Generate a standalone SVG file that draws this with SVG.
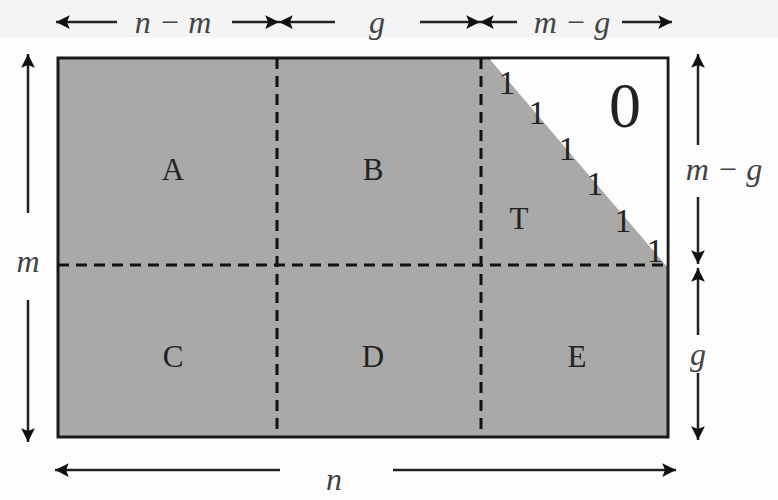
<svg xmlns="http://www.w3.org/2000/svg" width="778" height="500" viewBox="0 0 778 500">
<defs>
<style>
.dim{stroke:#222;stroke-width:2.5;fill:none;marker-end:url(#ah)}
.dash{stroke:#111;stroke-width:3;stroke-dasharray:11 7;fill:none}
</style>
<marker id="ah" viewBox="0 0 10 10" refX="10" refY="5" markerWidth="7.5" markerHeight="5.5" orient="auto" markerUnits="strokeWidth">
<path d="M0,0 L10,5 L0,10 L2,5 z" fill="#111"/>
</marker>
</defs>
<rect x="0" y="0" width="778" height="37" fill="#f4f4f4"/>
<rect x="0" y="37" width="778" height="463" fill="#fdfdfd"/>
<g id="matrix">
<rect x="58" y="58" width="610" height="379" fill="#a9a9a9" stroke="#1a1a1a" stroke-width="3"/>
<polygon points="490,59.5 666.5,59.5 666.5,266" fill="#fdfdfd"/>
<line class="dash" x1="277" y1="58" x2="277" y2="437"/>
<line class="dash" x1="481" y1="58" x2="481" y2="437"/>
<line class="dash" x1="58" y1="265" x2="668" y2="265"/>
</g>
<g id="A"><text x="173" y="180" style="font-family:'Liberation Serif';font-size:31px;fill:#222;text-anchor:middle">A</text></g>
<g id="B"><text x="373" y="180" style="font-family:'Liberation Serif';font-size:31px;fill:#222;text-anchor:middle">B</text></g>
<g id="C"><text x="173" y="367" style="font-family:'Liberation Serif';font-size:31px;fill:#222;text-anchor:middle">C</text></g>
<g id="D"><text x="373" y="367" style="font-family:'Liberation Serif';font-size:31px;fill:#222;text-anchor:middle">D</text></g>
<g id="E"><text x="577" y="367" style="font-family:'Liberation Serif';font-size:31px;fill:#222;text-anchor:middle">E</text></g>
<g id="T"><text x="519" y="229" style="font-family:'Liberation Serif';font-size:31px;fill:#222;text-anchor:middle">T</text></g>
<g id="Z"><text x="625" y="127" style="font-family:'Liberation Serif';font-size:64px;fill:#222;text-anchor:middle">0</text></g>
<g id="ones">
<text x="507" y="94" style="font-family:'Liberation Serif';font-size:34px;fill:#222;text-anchor:middle">1</text>
<text x="537" y="124" style="font-family:'Liberation Serif';font-size:34px;fill:#222;text-anchor:middle">1</text>
<text x="567" y="160" style="font-family:'Liberation Serif';font-size:34px;fill:#222;text-anchor:middle">1</text>
<text x="595" y="195" style="font-family:'Liberation Serif';font-size:34px;fill:#222;text-anchor:middle">1</text>
<text x="623" y="232" style="font-family:'Liberation Serif';font-size:34px;fill:#222;text-anchor:middle">1</text>
<text x="655" y="262" style="font-family:'Liberation Serif';font-size:34px;fill:#222;text-anchor:middle">1</text>
</g>
<g id="connectors">
<line class="dim" x1="117" y1="22" x2="56" y2="22"/>
<line class="dim" x1="232" y1="22" x2="279" y2="22"/>
<line class="dim" x1="335" y1="22" x2="279" y2="22"/>
<line class="dim" x1="420" y1="22" x2="480" y2="22"/>
<line class="dim" x1="517" y1="22" x2="480" y2="22"/>
<line class="dim" x1="622" y1="22" x2="672" y2="22"/>
<line class="dim" x1="28" y1="213" x2="28" y2="54"/>
<line class="dim" x1="28" y1="300" x2="28" y2="442"/>
<line class="dim" x1="698" y1="145" x2="698" y2="54"/>
<line class="dim" x1="698" y1="197" x2="698" y2="264"/>
<line class="dim" x1="698" y1="335" x2="698" y2="268"/>
<line class="dim" x1="698" y1="373" x2="698" y2="440"/>
<line class="dim" x1="280" y1="470" x2="55" y2="470"/>
<line class="dim" x1="393" y1="470" x2="676" y2="470"/>
</g>
<g id="labels">
<text x="173" y="33" style="font-family:'Liberation Serif';font-style:italic;font-size:32px;fill:#444;text-anchor:middle">n − m</text>
<text x="377" y="33" style="font-family:'Liberation Serif';font-style:italic;font-size:32px;fill:#444;text-anchor:middle">g</text>
<text x="572" y="33" style="font-family:'Liberation Serif';font-style:italic;font-size:32px;fill:#444;text-anchor:middle">m − g</text>
<text x="28" y="272" style="font-family:'Liberation Serif';font-style:italic;font-size:32px;fill:#444;text-anchor:middle">m</text>
<text x="724" y="180" style="font-family:'Liberation Serif';font-style:italic;font-size:32px;fill:#444;text-anchor:middle">m − g</text>
<text x="698" y="365" style="font-family:'Liberation Serif';font-style:italic;font-size:32px;fill:#444;text-anchor:middle">g</text>
<text x="334" y="490" style="font-family:'Liberation Serif';font-style:italic;font-size:32px;fill:#444;text-anchor:middle">n</text>
</g>
</svg>
